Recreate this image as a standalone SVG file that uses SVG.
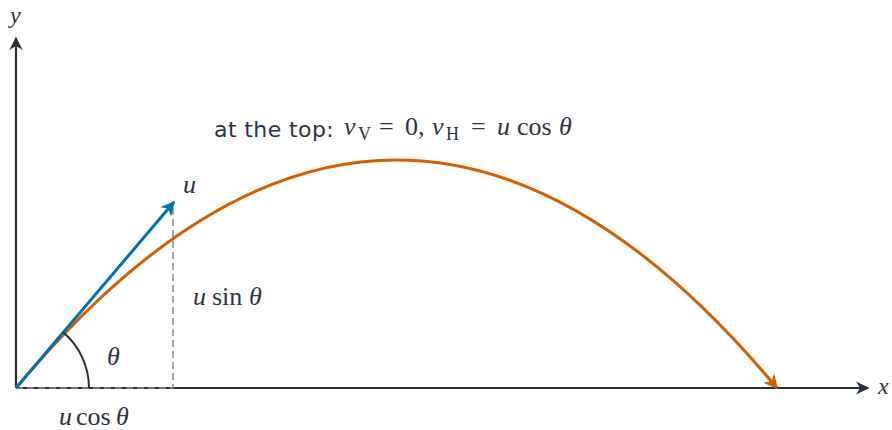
<svg xmlns="http://www.w3.org/2000/svg" width="892" height="430" viewBox="0 0 892 430">
<style>
.m{font-family:"Liberation Serif","DejaVu Serif",serif;font-size:26px;fill:#2b3442}
.i{font-style:italic}
.s{font-family:"DejaVu Sans","Open Sans",sans-serif;font-size:22px;letter-spacing:0.4px;fill:#2b3442}
.sub{font-size:18px}
.ax{font-size:24px}
</style>
<defs>
<marker id="ak" viewBox="0 0 10 10" refX="9" refY="5" markerWidth="6" markerHeight="6" orient="auto" markerUnits="strokeWidth"><path d="M0,0 L10,5 L0,10 L3,5 z" fill="#262f3d"/></marker>
<marker id="ab" viewBox="0 0 10 10" refX="9" refY="5" markerWidth="4.8" markerHeight="4.8" orient="auto" markerUnits="strokeWidth"><path d="M0,0 L10,5 L0,10 L3,5 z" fill="#0072b2"/></marker>
<marker id="ao" viewBox="0 0 10 10" refX="9" refY="5" markerWidth="4.8" markerHeight="4.8" orient="auto" markerUnits="strokeWidth"><path d="M0,0 L10,5 L0,10 L3,5 z" fill="#d55e00"/></marker>
</defs>
<g id="axes">
<line x1="16" y1="388" x2="868" y2="388" stroke="#262f3d" stroke-width="2.2" marker-end="url(#ak)"/>
<line x1="16" y1="388" x2="16" y2="38" stroke="#262f3d" stroke-width="2.2" marker-end="url(#ak)"/>
<text class="m i ax" x="878" y="394">x</text>
<text class="m i ax" x="10" y="23">y</text>
</g>
<g id="connectors">
<line x1="173" y1="208" x2="173" y2="388" stroke="#8a8a8a" stroke-width="1.5" stroke-dasharray="7,4"/>
<line x1="16" y1="388" x2="173" y2="388" stroke="#8a8a8a" stroke-width="1.5" stroke-dasharray="7,4"/>
<path d="M16,388 Q396.5,-68 777,388" fill="none" stroke="#d55e00" stroke-width="3" marker-end="url(#ao)"/>
<line x1="16" y1="388" x2="174" y2="202" stroke="#0072b2" stroke-width="3" marker-end="url(#ab)"/>
<path d="M89,388 A73,73 0 0 0 63.2,332.3" fill="none" stroke="#262f3d" stroke-width="2"/>
</g>
<g id="labels">
<text class="m i" x="183" y="193">u</text>
<text class="m i" x="107" y="365">θ</text>
<text class="m"><tspan class="i" x="193" y="305">u</tspan><tspan x="212" y="305">sin</tspan><tspan class="i" x="249" y="305">θ</tspan></text>
<text class="m"><tspan class="i" x="59" y="425">u</tspan><tspan x="76" y="425">cos</tspan><tspan class="i" x="116" y="425">θ</tspan></text>
<text class="s" x="214" y="137">at the top:</text>
<text class="m"><tspan class="i" x="344" y="135">v</tspan><tspan class="sub" x="358" y="140">V</tspan><tspan x="379" y="135">=</tspan><tspan x="405" y="135">0,</tspan><tspan class="i" x="432" y="135">v</tspan><tspan class="sub" x="446" y="140">H</tspan><tspan x="471" y="135">=</tspan><tspan class="i" x="497" y="135">u</tspan><tspan x="517" y="135">cos</tspan><tspan class="i" x="559" y="135">θ</tspan></text>
</g>
</svg>
